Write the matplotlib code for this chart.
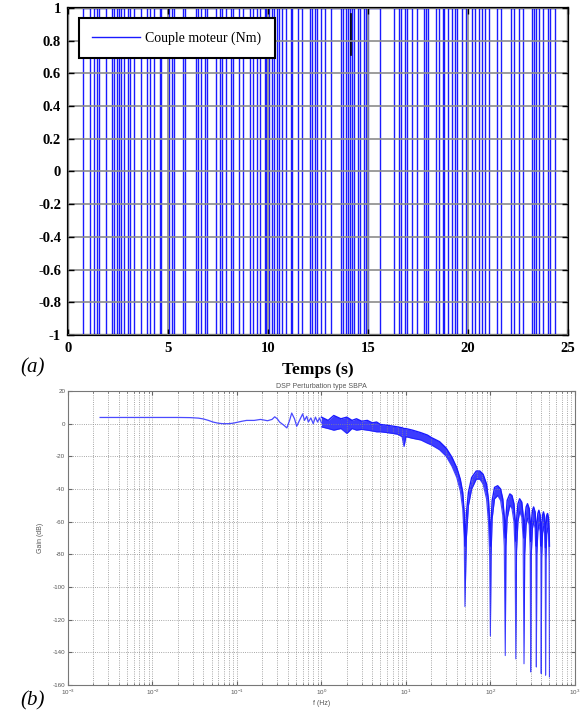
import matplotlib
matplotlib.use("Agg")
import matplotlib.pyplot as plt
import numpy as np
from matplotlib.ticker import MultipleLocator, FuncFormatter, LogLocator

plt.rcParams['axes.unicode_minus'] = False

# ---------------- (a) PRBS torque signal ----------------
switch_times = [0.75, 1.08, 1.30, 1.43, 1.55, 1.92, 2.18, 2.30, 2.47, 2.55, 2.63, 2.80,
                3.02, 3.10, 3.30, 3.67, 3.94, 4.10, 4.30, 4.59, 4.67, 5.05, 5.20, 5.30,
                5.75, 5.84, 6.42, 6.50, 6.64, 6.87, 6.97, 7.42, 7.59, 7.71, 7.89, 8.14,
                8.26, 8.57, 8.74, 9.11, 9.24, 9.46, 9.62, 9.83, 9.92, 10.04, 10.18, 10.29,
                10.43, 10.54, 10.71, 10.88, 11.13, 11.21, 11.51, 11.71, 12.08, 12.21, 12.35,
                12.46, 12.66, 12.83, 13.13, 13.66, 13.78, 13.91, 14.00, 14.13, 14.21, 14.33,
                14.50, 14.63, 14.83, 14.91, 15.03, 15.63, 16.33, 16.58, 16.67, 16.87, 16.95,
                17.20, 17.45, 17.82, 17.92, 18.03, 18.42, 18.58, 18.75, 18.83, 19.03, 19.20,
                19.37, 19.48, 19.73, 19.93, 20.20, 20.37, 20.54, 20.70, 20.87, 21.06, 21.47,
                21.64, 22.15, 22.32, 22.57, 22.74, 23.21, 23.33, 23.41, 23.58, 23.75, 24.00,
                24.09, 24.34]
t_start, t_end = 0.0, 25.0
initial_level = -1
artifact_t = [14.17, 14.17]
artifact_y = [0.71, 0.96]
legend_label = "Couple moteur (Nm)"

# ---------------- (b) PSD ----------------
lf_freq = [0.0024, 0.005, 0.01, 0.02, 0.028, 0.035, 0.04, 0.046, 0.052, 0.06, 0.068, 0.08,
           0.09, 0.1, 0.115, 0.13, 0.16, 0.19, 0.21, 0.23, 0.26, 0.28, 0.30, 0.32, 0.36,
           0.39, 0.42, 0.445, 0.48, 0.51, 0.55, 0.6, 0.63, 0.67, 0.7, 0.75, 0.8, 0.85,
           0.9, 0.95, 1.0]
lf_db = [3.8, 3.8, 3.8, 3.8, 3.7, 3.4, 2.9, 2.0, 1.0, 0.3, 0.0, 0.0,
         0.3, 0.8, 1.5, 2.0, 2.0, 2.6, 2.2, 1.8, 2.6, 4.2, 3.0, 1.0, -1.0,
         -2.6, 2.0, 6.5, 3.0, -1.6, 2.0, 6.0, 2.0, 4.5, 1.0, 3.5, 0.0, 4.0,
         1.0, 3.5, 0.5]

hf_freq = [1.0, 1.2, 1.4, 1.7, 2.0, 2.3, 2.6, 3.0, 3.5, 4.0, 4.5, 5.0, 6.0, 7.0, 8.0, 9.0,
           9.5, 10, 12, 15, 18, 20, 25, 30, 35, 40, 44, 47, 49, 50,
           52, 55, 60, 68, 75, 82, 90, 95, 98, 100,
           102, 105, 112, 122, 132, 140, 146, 150,
           153, 158, 170, 180, 190, 196, 200,
           204, 212, 222, 235, 244, 250,
           255, 265, 275, 288, 296, 300,
           305, 315, 325, 338, 346, 350,
           355, 365, 375, 388, 396, 400,
           405, 415, 425, 438, 446, 450,
           455, 465, 475, 488, 496, 500]
hf_upper = [4, 2, 5, 3, 4, 2, 3, 1.5, 2, 0.5, 1, -0.5, -1, -1.5, -2, -2.5,
            -3, -3, -4, -5.5, -7, -8.5, -11, -15, -20.5, -27, -34, -42, -55, -75,
            -55, -42, -33, -29, -29, -31, -37, -47, -60, -75,
            -60, -47, -39, -38, -40, -46, -57, -70,
            -57, -47, -43, -44, -49, -59, -72,
            -59, -49, -46, -48, -56, -70,
            -59, -51, -49, -52, -61, -72,
            -61, -53, -51, -54, -62, -75,
            -62, -55, -53, -56, -64, -75,
            -63, -56, -54, -57, -65, -76,
            -63, -56, -55, -58, -65, -75]
hf_lower = [-2, -3, -4, -3, -6, -3, -4, -3.5, -4, -4.5, -5, -5, -5.5, -6, -6.5, -8,
            -14, -8, -9, -10, -12, -13, -16, -20, -26, -33, -41, -52, -70, -112,
            -70, -50, -40, -34, -34, -37, -46, -60, -80, -130,
            -80, -58, -46, -44, -47, -56, -75, -142,
            -75, -58, -50, -52, -60, -78, -144,
            -78, -60, -54, -57, -70, -147,
            -80, -62, -58, -62, -78, -152,
            -80, -64, -60, -64, -80, -149,
            -80, -66, -62, -66, -80, -153,
            -82, -67, -63, -67, -82, -154,
            -83, -67, -64, -68, -84, -155]

# ================= figure =================
fig = plt.figure(figsize=(5.86, 7.13), dpi=100)
serif = 'Liberation Serif'
sans = 'Liberation Sans'

# ---- top axes ----
ax1 = fig.add_axes([0.116, 0.530, 0.853, 0.459])
levels = [initial_level * (-1) ** k for k in range(len(switch_times) + 1)]
t_pts = [t_start] + list(switch_times) + [t_end]
y_pts = levels + [levels[-1]]
ax1.plot(t_pts, y_pts, drawstyle='steps-post', color='#1a1aff', lw=1.0,
         label=legend_label)
ax1.plot(artifact_t, artifact_y, color='black', lw=1.2)
ax1.set_xlim(0, 25)
ax1.set_ylim(-1, 1)
ax1.xaxis.set_major_locator(MultipleLocator(5))
ax1.yaxis.set_major_locator(MultipleLocator(0.2))
ax1.yaxis.set_major_formatter(FuncFormatter(lambda v, p: ('%g' % round(v, 2))))
ax1.set_axisbelow(False)
ax1.grid(True, color='#8c8c8c', lw=1.2, ls='-')
ax1.tick_params(direction='in', length=4, width=1, top=True, right=True,
                labelsize=10.5, pad=5)
for lab in ax1.get_xticklabels() + ax1.get_yticklabels():
    lab.set_fontfamily(serif)
    lab.set_fontweight('bold')
for s in ax1.spines.values():
    s.set_linewidth(1.6)
    s.set_color('black')
ax1.set_xlabel('Temps (s)', fontfamily=serif, fontweight='bold', fontsize=12.5,
               labelpad=5)
leg = ax1.legend(loc='upper left', bbox_to_anchor=(0.022, 0.969), borderaxespad=0,
                 fancybox=False, edgecolor='black', framealpha=1,
                 prop={'family': serif, 'size': 10}, handlelength=3.4,
                 handletextpad=0.4, borderpad=0.97)
leg.get_frame().set_linewidth(1.5)

fig.text(0.034, 0.484, '(a)', fontfamily=serif, fontstyle='italic', fontsize=15,
         va='center', ha='left')

# ---- bottom axes ----
ax2 = fig.add_axes([0.116, 0.0393, 0.865, 0.4123])
blue = '#1a1aff'
ax2.plot(lf_freq, lf_db, color='#4a4aff', lw=0.9)
ax2.fill_between(hf_freq, hf_lower, hf_upper, color=blue, alpha=0.85, lw=0)
ax2.plot(hf_freq, hf_upper, color=blue, lw=1.0)
ax2.plot(hf_freq, hf_lower, color=blue, lw=0.8, alpha=0.8)
ax2.set_xscale('log')
ax2.set_xlim(1e-3, 1e3)
ax2.set_ylim(-160, 20)
ax2.yaxis.set_major_locator(MultipleLocator(20))
ax2.xaxis.set_major_locator(LogLocator(base=10, numticks=10))
ax2.xaxis.set_minor_locator(LogLocator(base=10, subs=np.arange(2, 10), numticks=20))
ax2.grid(True, which='both', axis='x', ls=':', color='#8a8a8a', lw=0.6)
ax2.grid(True, which='major', axis='y', ls=':', color='#8a8a8a', lw=0.6)
ax2.tick_params(which='both', direction='in', top=True, right=True,
                labelsize=4.5, colors='#666666', labelcolor='#555555', pad=2)
ax2.tick_params(which='major', length=3)
ax2.tick_params(which='minor', length=1.5)
ax2.xaxis.set_minor_formatter(FuncFormatter(lambda v, p: ''))
for lab in ax2.get_xticklabels() + ax2.get_yticklabels():
    lab.set_fontfamily(sans)
for s in ax2.spines.values():
    s.set_linewidth(0.8)
    s.set_color('#777777')
ax2.set_title('DSP Perturbation type SBPA', fontfamily=sans, fontsize=5,
              color='#555555', pad=2.5)
ax2.set_xlabel('f (Hz)', fontfamily=sans, fontsize=5, color='#555555', labelpad=2)
ax2.set_ylabel('Gain (dB)', fontfamily=sans, fontsize=5, color='#555555', labelpad=6)

fig.text(0.034, 0.017, '(b)', fontfamily=serif, fontstyle='italic', fontsize=15,
         va='center', ha='left')

fig.savefig('out.png', dpi=100)
